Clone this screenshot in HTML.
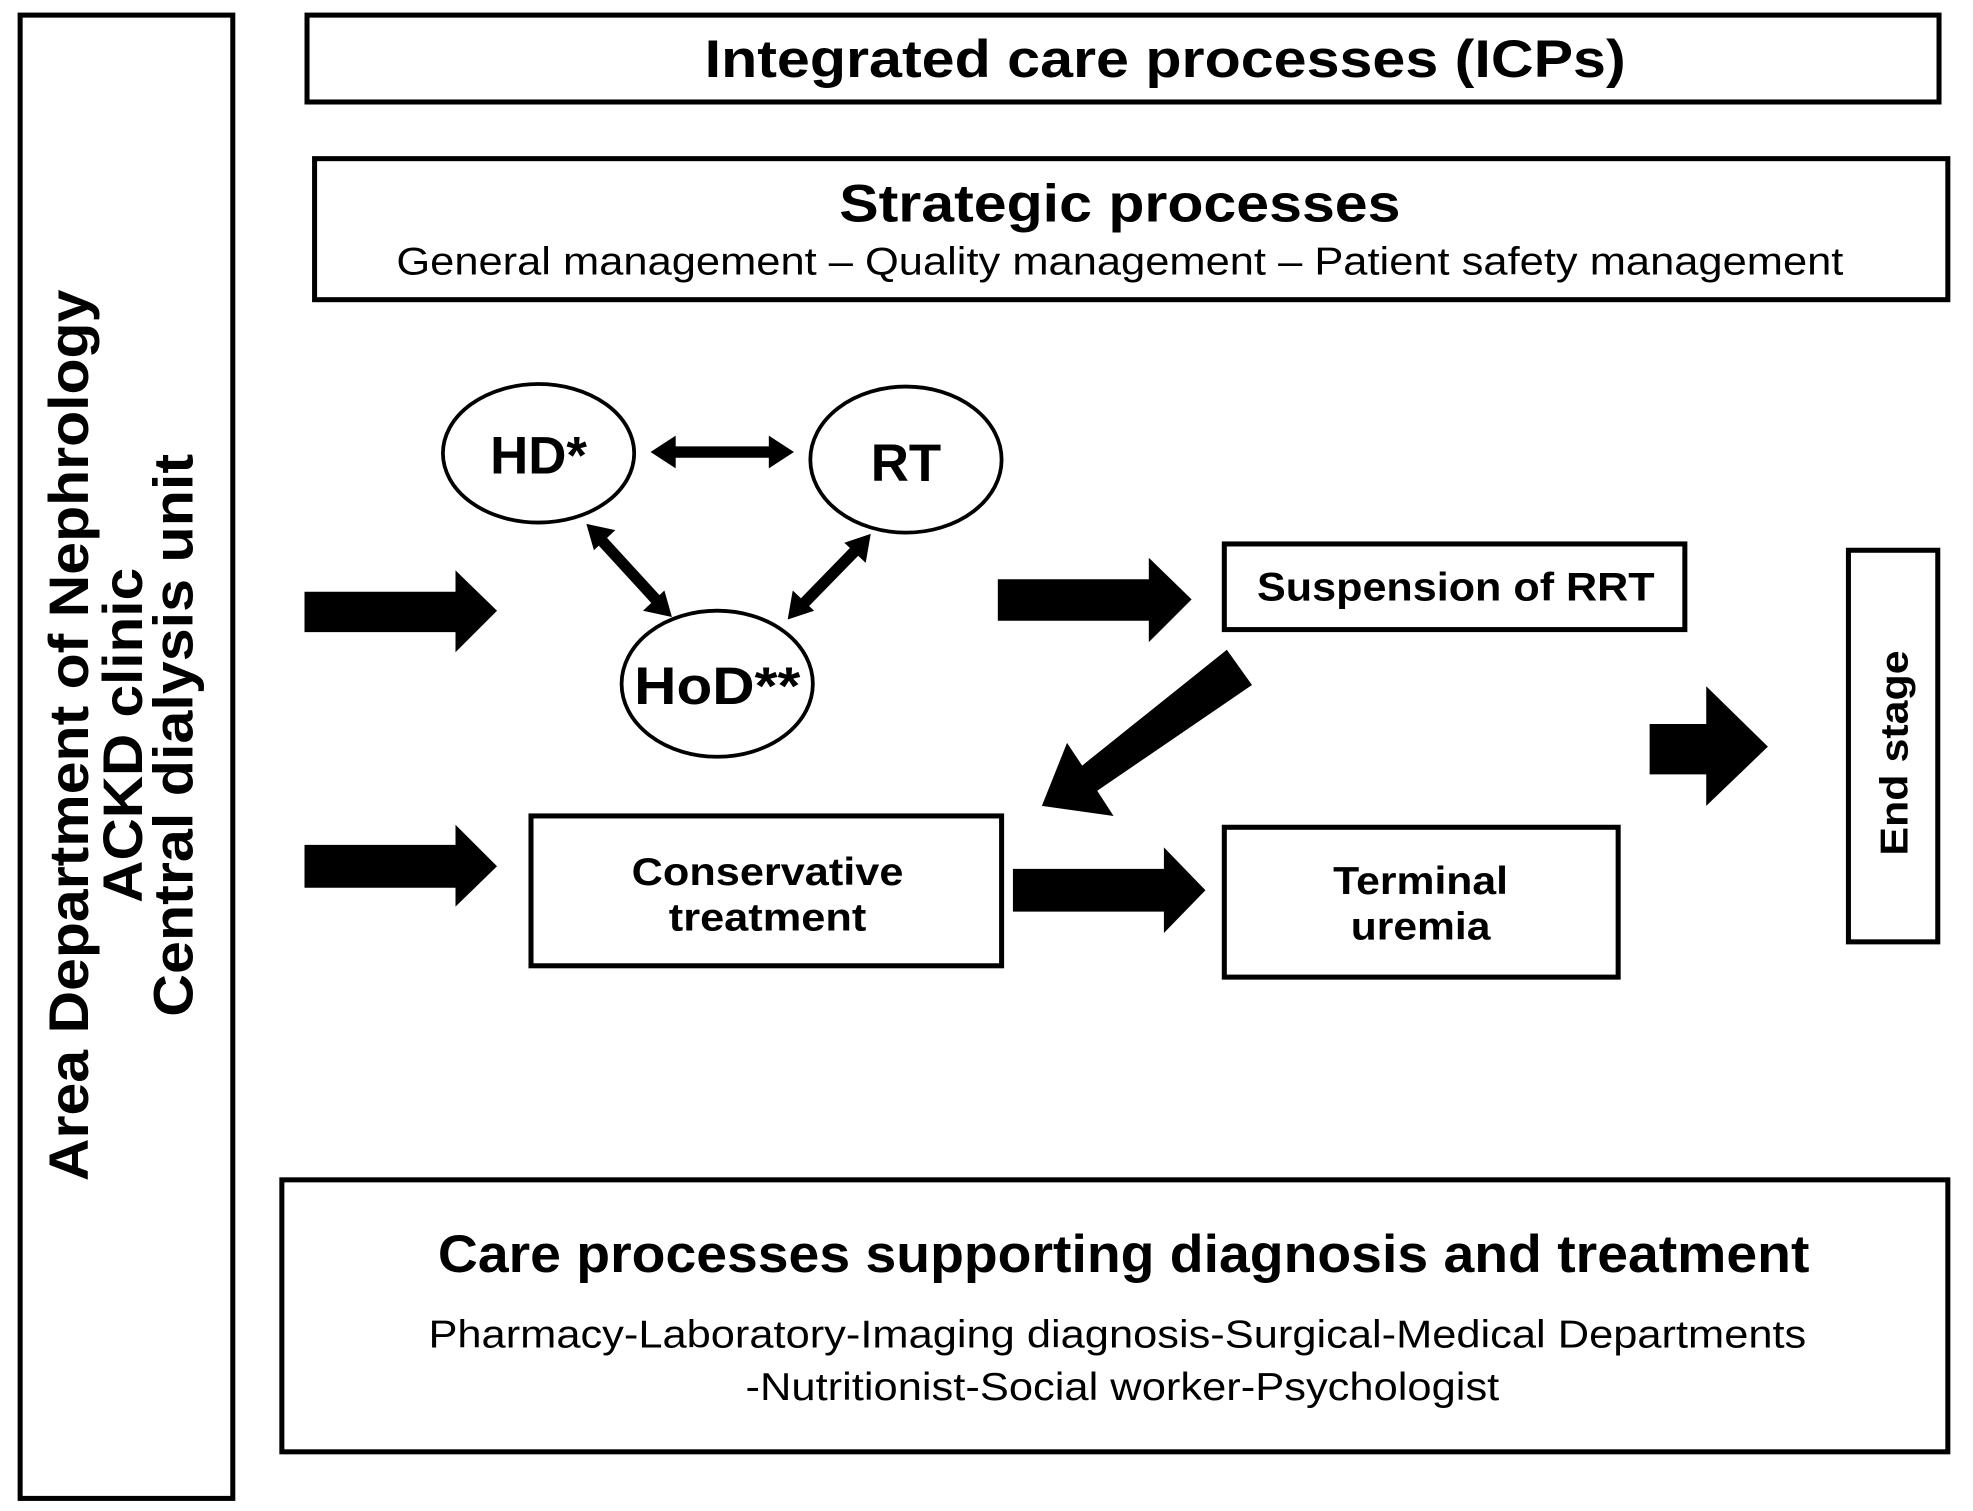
<!DOCTYPE html>
<html><head><style>html,body{margin:0;padding:0;background:#fff}svg{display:block}</style></head>
<body>
<svg width="1973" height="1511" viewBox="0 0 1568 1200" preserveAspectRatio="none" xmlns="http://www.w3.org/2000/svg" font-family="Liberation Sans, Arial, sans-serif">
<rect width="1568" height="1200" fill="#fff"/>
<g fill="none" stroke="#000" stroke-width="4">
<rect x="16" y="12" width="169" height="1178"/>
<rect x="244" y="12" width="1297" height="69"/>
<rect x="250" y="126" width="1298" height="112"/>
<rect x="973" y="432" width="366" height="68"/>
<rect x="422" y="648" width="374" height="119"/>
<rect x="973" y="657" width="313" height="119"/>
<rect x="1469" y="437" width="71" height="311"/>
<rect x="224" y="937" width="1324" height="216"/>
</g>
<g fill="none" stroke="#000" stroke-width="3">
<ellipse cx="428" cy="360" rx="76" ry="55"/>
<ellipse cx="720" cy="365" rx="76" ry="58"/>
<ellipse cx="570" cy="543" rx="76" ry="58"/>
</g>
<g font-weight="bold" text-anchor="middle" fill="#000" lengthAdjust="spacingAndGlyphs">
<g transform="translate(55,584) rotate(-90)"><text x="0" y="15" font-size="44" textLength="708" lengthAdjust="spacingAndGlyphs">Area Department of Nephrology</text></g>
<g transform="translate(98,584) rotate(-90)"><text x="0" y="15" font-size="44" textLength="266" lengthAdjust="spacingAndGlyphs">ACKD clinic</text></g>
<g transform="translate(138,584) rotate(-90)"><text x="0" y="15" font-size="44" textLength="447" lengthAdjust="spacingAndGlyphs">Central dialysis unit</text></g>
<text x="926" y="61" font-size="42" textLength="732" lengthAdjust="spacingAndGlyphs">Integrated care processes (ICPs)</text>
<text x="890" y="176" font-size="42" textLength="446" lengthAdjust="spacingAndGlyphs">Strategic processes</text>
<text x="428" y="376" font-size="42">HD*</text>
<text x="720" y="382" font-size="42">RT</text>
<text x="570" y="559" font-size="42" textLength="132" lengthAdjust="spacingAndGlyphs">HoD**</text>
<text x="1157" y="477" font-size="32" textLength="316" lengthAdjust="spacingAndGlyphs">Suspension of RRT</text>
<text x="610" y="703" font-size="31" textLength="216" lengthAdjust="spacingAndGlyphs">Conservative</text>
<text x="610" y="739" font-size="31" textLength="157" lengthAdjust="spacingAndGlyphs">treatment</text>
<text x="1129" y="710" font-size="31" textLength="139" lengthAdjust="spacingAndGlyphs">Terminal</text>
<text x="1129" y="746" font-size="31" textLength="111" lengthAdjust="spacingAndGlyphs">uremia</text>
<g transform="translate(1505,598) rotate(-90)"><text x="0" y="11" font-size="31" textLength="163" lengthAdjust="spacingAndGlyphs">End stage</text></g>
<text x="893" y="1010" font-size="42" textLength="1090" lengthAdjust="spacingAndGlyphs">Care processes supporting diagnosis and treatment</text>
</g>
<g text-anchor="middle" fill="#000" font-size="31">
<text x="890" y="218" textLength="1150" lengthAdjust="spacingAndGlyphs">General management – Quality management – Patient safety management</text>
<text x="888" y="1070" textLength="1095" lengthAdjust="spacingAndGlyphs">Pharmacy-Laboratory-Imaging diagnosis-Surgical-Medical Departments</text>
<text x="892" y="1112" textLength="599" lengthAdjust="spacingAndGlyphs">-Nutritionist-Social worker-Psychologist</text>
</g>
<g fill="#000">
<polygon points="242,470 362,470 362,453 395,485 362,518 362,502 242,502"/>
<polygon points="242,671 362,671 362,655 395,688 362,720 362,705 242,705"/>
<polygon points="793,460 913,460 913,443 947,476 913,510 913,493 793,493"/>
<polygon points="805,690 925,690 925,673 958,707 925,741 925,724 805,724"/>
<polygon points="1311,575 1356,575 1356,545 1405,593 1356,640 1356,615 1311,615"/>
<polygon points="975,516 995,544 872,628 885,648 828,640 848,590 860,608"/>
</g>
<g stroke="#000" stroke-width="9" fill="none">
<line x1="533" y1="359" x2="615" y2="359"/>
<line x1="478" y1="429" x2="522" y2="477"/>
<line x1="680" y1="437" x2="638" y2="480"/>
</g>
<g fill="#000">
<polygon points="517,359 537,346 537,372"/>
<polygon points="631,359 611,346 611,372"/>
<polygon points="466,416 489,421 472,437"/>
<polygon points="534,490 511,485 528,469"/>
<polygon points="692,424 688,447 671,431"/>
<polygon points="626,492 630,469 647,485"/>
</g>
</svg>
</body></html>
